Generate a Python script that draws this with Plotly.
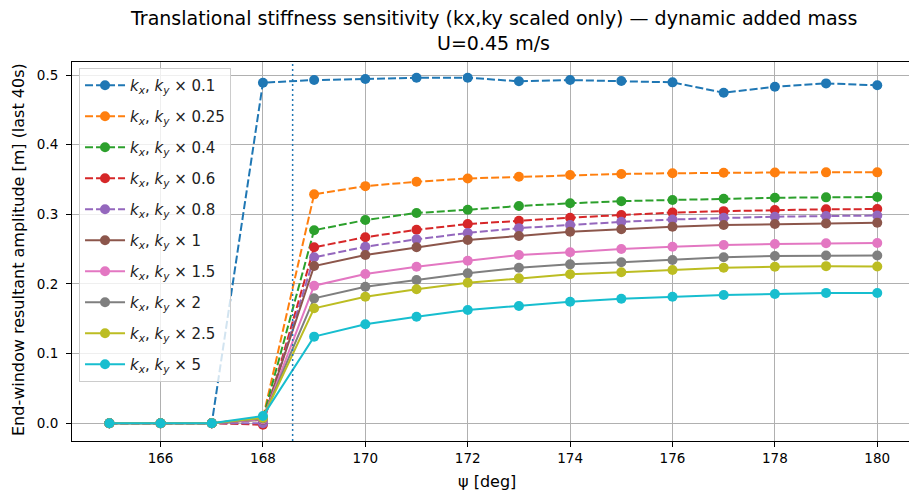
import plotly.graph_objects as go

psi = [165, 166, 167, 168, 169, 170, 171, 172, 173, 174, 175, 176, 177, 178, 179, 180]

scales = ["0.1", "0.25", "0.4", "0.6", "0.8", "1", "1.5", "2", "2.5", "5"]

amp_0_1 = [0, 0, 0, 0.489, 0.4928, 0.4943, 0.4961, 0.4961, 0.491, 0.4928, 0.4914, 0.4895, 0.4746, 0.4832, 0.488, 0.4852]
amp_0_25 = [0, 0, 0, 0.008, 0.3287, 0.3405, 0.3468, 0.3515, 0.354, 0.3565, 0.358, 0.359, 0.3598, 0.360, 0.3603, 0.3603]
amp_0_4 = [0, 0, 0, 0.007, 0.2772, 0.2918, 0.3020, 0.3065, 0.312, 0.3158, 0.3189, 0.3206, 0.3225, 0.3238, 0.3244, 0.3248]
amp_0_6 = [0, 0, 0, -0.002, 0.2527, 0.2672, 0.2778, 0.2861, 0.2909, 0.2952, 0.299, 0.3025, 0.3046, 0.3062, 0.3072, 0.3076]
amp_0_8 = [0, 0, 0, 0.0, 0.2383, 0.2535, 0.2641, 0.2733, 0.2802, 0.2847, 0.2892, 0.2926, 0.2950, 0.2966, 0.2976, 0.2983]
amp_1 = [0, 0, 0, 0.005, 0.2258, 0.2416, 0.2527, 0.2631, 0.2689, 0.2750, 0.2785, 0.2823, 0.2847, 0.2861, 0.2870, 0.2880]
amp_1_5 = [0, 0, 0, 0.006, 0.1976, 0.2143, 0.2248, 0.2334, 0.2416, 0.2455, 0.2502, 0.2535, 0.2560, 0.2574, 0.2584, 0.2588]
amp_2 = [0, 0, 0, 0.007, 0.1794, 0.1961, 0.2057, 0.2153, 0.2234, 0.2282, 0.2311, 0.2344, 0.2383, 0.2402, 0.2410, 0.2408]
amp_2_5 = [0, 0, 0, 0.008, 0.1651, 0.1818, 0.1924, 0.2019, 0.2081, 0.2139, 0.2168, 0.2201, 0.2234, 0.2248, 0.2256, 0.2252]
amp_5 = [0, 0, 0, 0.0105, 0.1244, 0.1421, 0.1530, 0.1626, 0.1684, 0.1746, 0.1789, 0.1818, 0.1842, 0.1856, 0.1872, 0.1870]

series = [amp_0_1, amp_0_25, amp_0_4, amp_0_6, amp_0_8, amp_1, amp_1_5, amp_2, amp_2_5, amp_5]
dashed = [True, True, True, True, True, False, False, False, False, False]
colors = ["#1f77b4", "#ff7f0e", "#2ca02c", "#d62728", "#9467bd",
          "#8c564b", "#e377c2", "#7f7f7f", "#bcbd22", "#17becf"]

psi_crit = 168.58

xticks = [166, 168, 170, 172, 174, 176, 178, 180]
yticks = [0.0, 0.1, 0.2, 0.3, 0.4, 0.5]

FONT = "DejaVu Sans"

fig = go.Figure()
for i, (s, vals) in enumerate(zip(scales, series)):
    fig.add_trace(go.Scatter(
        x=psi, y=vals, mode="lines+markers",
        name="<i>k<sub>x</sub></i>, <i>k<sub>y</sub></i> × " + s,
        legendgroup=str(i),
        line=dict(color=colors[i], width=2, dash="8px,3px" if dashed[i] else "solid"),
        marker=dict(color=colors[i], size=10, line=dict(width=0)),
    ))

fig.add_shape(type="line", xref="x", yref="paper", x0=psi_crit, x1=psi_crit, y0=0, y1=1,
              line=dict(color="#1f77b4", width=1.5, dash="2px,3px"), layer="above")

axis_common = dict(
    showgrid=True, gridcolor="#b0b0b0", gridwidth=1, zeroline=False,
    showline=True, linecolor="black", linewidth=1,
    ticks="outside", ticklen=5, tickwidth=1, tickcolor="black",
    tickfont=dict(family=FONT, size=13.5, color="black"),
)

fig.update_layout(
    width=909, height=492, autosize=False,
    margin=dict(l=72, r=0, t=62, b=51),
    paper_bgcolor="white", plot_bgcolor="white",
    font=dict(family=FONT, color="black"),
    xaxis=dict(range=[164.27, 180.62], tickvals=xticks, ticktext=[str(v) for v in xticks],
               mirror=True, **axis_common),
    yaxis=dict(range=[-0.0254, 0.5187], tickvals=yticks, ticktext=["%.1f" % v for v in yticks],
               mirror=False, ticklabelstandoff=5, **axis_common),
    showlegend=True,
    legend=dict(x=0.0084, y=0.984, xanchor="left", yanchor="top",
                bgcolor="rgba(255,255,255,0.8)", bordercolor="#cccccc", borderwidth=1,
                font=dict(family=FONT, size=15, color="#222"),
                tracegroupgap=8.5, itemwidth=40),
    annotations=[
        dict(text="Translational stiffness sensitivity (kx,ky scaled only) — dynamic added mass",
             xref="paper", yref="paper", x=0.504, y=1 + (62 - 18) / 379, xanchor="center", yanchor="middle",
             showarrow=False, font=dict(family=FONT, size=19, color="black")),
        dict(text="U=0.45 m/s",
             xref="paper", yref="paper", x=0.504, y=1 + (62 - 43) / 379, xanchor="center", yanchor="middle",
             showarrow=False, font=dict(family=FONT, size=19, color="black")),
        dict(text="ψ [deg]", xref="paper", yref="paper", x=(487 - 72) / 837, y=-(481 - 441) / 379,
             xanchor="center", yanchor="middle", showarrow=False,
             font=dict(family=FONT, size=16, color="black")),
        dict(text="End-window resultant amplitude [m] (last 40s)", xref="paper", yref="paper",
             x=-(72 - 18) / 837, y=(441 - 250) / 379, textangle=-90,
             xanchor="center", yanchor="middle", showarrow=False,
             font=dict(family=FONT, size=16, color="black")),
    ],
)

fig.write_html("out.html")
